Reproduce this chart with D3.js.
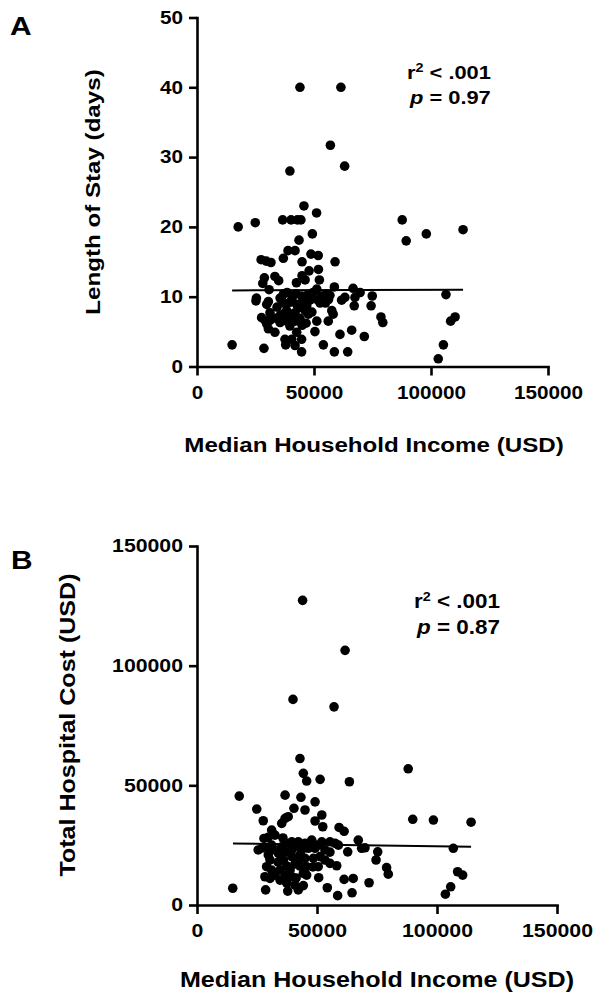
<!DOCTYPE html>
<html>
<head>
<meta charset="utf-8">
<script src="https://cdn.jsdelivr.net/npm/d3@7"></script>
<style>
  body { margin: 0; background: #fff; }
  svg { display: block; background: #fff; }
  text { font-family: "Liberation Sans", Arial, sans-serif; font-weight: bold; fill: #000; white-space: pre; }
</style>
</head>
<body>
<svg id="chart" width="596" height="993"></svg>
<script>
// panel A: length of stay (days) against median household income
const incomeA = [44000, 61500, 57000, 39700, 63100, 17600, 24900, 36600, 40200, 42900,
  44400, 45700, 51100, 87700, 113700, 98000, 89400, 49300, 43600, 38900,
  41900, 48700, 51800, 36900, 27400, 29600, 31600, 44900, 59000, 47900,
  51900, 44900, 28800, 33300, 34900, 28100, 42500, 52300, 46200, 58700,
  66700, 69700, 30800, 51200, 37000, 38500, 40600, 42300, 44700, 47000,
  49600, 46200, 49000, 53200, 55300, 56800, 56200, 52600, 54900, 36200,
  37600, 39700, 42600, 45400, 48300, 25400, 25200, 30500, 29800, 38300,
  41900, 46200, 46900, 47600, 61800, 63200, 67500, 67200, 74900, 74400,
  106400, 29100, 31200, 29800, 36900, 35500, 38300, 41900, 44900, 46600,
  30500, 33300, 42600, 37600, 44700, 37900, 41900, 15000, 28600, 44700,
  57600, 58200, 51200, 56100, 78600, 79400, 50400, 61100, 66100, 71500,
  54000, 58700, 64400, 110300, 108400, 105300, 103100, 40500, 39700, 31200,
  35500, 34200, 27600, 35500, 40600, 43200, 38900, 44000, 33800, 49100,
  51700];
const stayDays = [40, 40, 31.7, 28.0, 28.7, 20.0, 20.6, 21.0, 21.0, 21.0,
  21.0, 23.0, 22.0, 21.0, 19.6, 19.0, 18.0, 19.0, 18.1, 16.6,
  16.6, 16.1, 15.9, 15.5, 15.3, 15.1, 14.9, 15.0, 15.0, 13.7,
  13.9, 13.0, 12.7, 12.9, 12.3, 11.9, 12.0, 12.4, 12.4, 11.4,
  11.2, 10.6, 11.0, 11.1, 10.4, 10.6, 10.1, 10.4, 10.1, 10.2,
  10.6, 9.6, 9.9, 10.1, 10.4, 10.2, 9.6, 9.1, 9.1, 9.5,
  9.0, 9.2, 8.9, 9.3, 9.5, 9.8, 9.4, 9.3, 8.9, 8.0,
  7.7, 8.0, 8.7, 7.5, 9.5, 9.9, 9.9, 8.7, 10.1, 8.7,
  10.3, 6.6, 6.6, 6.1, 7.5, 6.3, 6.5, 6.5, 5.9, 6.2,
  5.4, 4.9, 4.9, 3.9, 3.9, 3.1, 3.0, 3.1, 2.6, 2.1,
  8.0, 7.5, 6.5, 6.5, 7.1, 6.3, 5.0, 4.6, 5.2, 4.3,
  3.1, 2.1, 2.1, 7.1, 6.5, 3.1, 1.1, 3.9, 5.8, 7.7,
  7.3, 8.5, 7.0, 9.8, 9.5, 8.4, 7.1, 6.9, 6.9, 7.8,
  9.5];

// panel B: total hospital cost (USD) against median household income
const incomeB = [44000, 61700, 40000, 57100, 42900, 44300, 45700, 51300, 63500, 88000,
  17600, 36700, 43300, 49200, 24900, 40400, 45000, 38000, 36700, 35300,
  27600, 52000, 49200, 52400, 89900, 98500, 114200, 59200, 61300, 31100,
  32500, 29700, 27900, 67200, 68600, 70000, 106800, 75300, 74600, 62800,
  79000, 79700, 108600, 110700, 105700, 103500, 14900, 28600, 37800, 42200,
  44300, 54300, 58600, 64600, 71700, 61300, 65100, 50700, 55400, 58200,
  50500, 25500, 29700, 31100, 35300, 37400, 39500, 42200, 45000, 47800,
  52000, 55400, 57500, 58900, 33900, 36700, 39500, 43600, 46400, 49200,
  53300, 55400, 29700, 30400, 36000, 39500, 42200, 45000, 48500, 51300,
  53300, 29000, 31100, 28300, 30400, 32500, 36700, 39500, 44300, 45700,
  37400, 40800, 48300, 45700, 37400, 40800, 34600, 33800, 27100, 32500,
  41300, 50400, 42900, 34600, 41300, 38800, 42900, 35800];
const hospitalCost = [127300, 106400, 85900, 82800, 61200, 55000, 51800, 52500, 51500, 56900,
  45500, 45900, 45000, 43100, 40100, 40400, 39700, 36900, 36200, 34100,
  35200, 37600, 35100, 32700, 35800, 35500, 34600, 32400, 30800, 31300,
  29200, 28300, 27800, 27100, 23700, 23900, 23700, 22200, 18800, 22200,
  15600, 12900, 13900, 12500, 7600, 4500, 7000, 6300, 5800, 6300,
  8100, 7200, 3900, 5100, 9300, 10700, 11100, 11400, 17400, 16400,
  16000, 23000, 24100, 25000, 24300, 25800, 26400, 26400, 25800, 27100,
  26400, 26400, 25800, 25000, 21600, 22200, 23000, 23000, 23700, 23700,
  23000, 22100, 20900, 18800, 18800, 20200, 18800, 19500, 19500, 20200,
  18800, 16000, 14600, 11800, 11100, 12500, 12500, 11800, 13200, 16000,
  16300, 17100, 15900, 12500, 9100, 8300, 14600, 17900, 23800, 23000,
  24600, 25000, 16300, 10400, 11300, 14600, 20900, 28000];

// fitted regression lines (end points)
const stayFitX = [15000, 113700];
const stayFitY = [10.9, 11.0];
const costFitX = [15000, 114200];
const costFitY = [25700, 24300];

const incomeTicks = [0, 50000, 100000, 150000];
const stayTicks = [0, 10, 20, 30, 40, 50];
const costTicks = [0, 50000, 100000, 150000];

const svg = d3.select("#chart");
const stretch = 1.15; // original type is wider than Liberation Sans

function drawPanel(p) {
  let x = d3.scaleLinear().domain([0, 150000]).range(p.xRange);
  let y = d3.scaleLinear().domain(p.yDomain).range(p.yRange);
  let g = svg.append("g");

  let xAxis = d3.axisBottom(x)
    .tickValues(incomeTicks)
    .tickFormat(d3.format("d"))
    .tickSize(9)
    .tickSizeOuter(0)
    .tickPadding(p.xPad);

  let yAxis = d3.axisLeft(y)
    .tickValues(p.yTicks)
    .tickFormat(d3.format("d"))
    .tickSize(8)
    .tickSizeOuter(0);

  let gx = g.append("g")
    .attr("transform", "translate(0," + p.yRange[0] + ")")
    .call(xAxis);
  let gy = g.append("g")
    .attr("transform", "translate(" + p.xRange[0] + ",0)")
    .call(yAxis);

  [gx, gy].forEach(function (a) {
    a.attr("font-size", null).attr("font-family", null);
    a.selectAll("path, line").attr("stroke", "#000").attr("stroke-width", 2.6);
    a.select(".domain").attr("stroke-linecap", "square");
    a.selectAll("text").style("font-size", p.tickFont + "px");
  });
  gx.selectAll("text").attr("transform", "scale(" + stretch + ",1)");
  gy.selectAll("text")
    .attr("x", -14 / stretch)
    .attr("transform", "scale(" + stretch + ",1)");

  // regression line
  let line = d3.line()
    .x(function (d) { return x(d[0]); })
    .y(function (d) { return y(d[1]); });
  g.append("path")
    .datum(d3.zip(p.fitX, p.fitY))
    .attr("d", line)
    .attr("fill", "none")
    .attr("stroke", "#000")
    .attr("stroke-width", 2);

  // points
  g.selectAll("circle")
    .data(d3.zip(p.xs, p.ys))
    .enter()
    .append("circle")
    .attr("cx", function (d) { return x(d[0]); })
    .attr("cy", function (d) { return y(d[1]); })
    .attr("r", 4.8)
    .attr("fill", "#000");

  // titles
  g.append("text")
    .attr("text-anchor", "middle")
    .attr("transform", "translate(" + p.xTitle[0] + "," + p.xTitle[1] + ") scale(" + stretch + ",1)")
    .style("font-size", p.titleFont + "px")
    .text("Median Household Income (USD)");

  g.append("text")
    .attr("text-anchor", "middle")
    .attr("dy", "0.26em")
    .attr("transform", "translate(" + p.yTitle[0] + "," + p.yTitle[1] + ") rotate(-90) scale(" + stretch + ",1)")
    .style("font-size", p.titleFont + "px")
    .text(p.yLabel);

  g.append("text")
    .attr("transform", "translate(" + p.letterPos[0] + "," + p.letterPos[1] + ") scale(" + stretch + ",1)")
    .style("font-size", "26px")
    .text(p.letter);

  // statistics
  let r2 = g.append("text")
    .attr("transform", "translate(" + p.note[0] + "," + p.note[1] + ") scale(" + stretch + ",1)")
    .style("font-size", p.noteFont + "px");
  r2.append("tspan").text("r");
  r2.append("tspan").attr("dy", -7.5).style("font-size", "12.5px").text("2");
  r2.append("tspan").attr("dy", 7.5).text(" < .001");

  let pv = g.append("text")
    .attr("transform", "translate(" + (p.note[0] + 3) + "," + (p.note[1] + p.noteGap) + ") scale(" + stretch + ",1)")
    .style("font-size", p.noteFont + "px");
  pv.append("tspan").style("font-style", "italic").text("p");
  pv.append("tspan").text(" = " + p.pValue);
}

drawPanel({
  letter: "A", letterPos: [10, 35],
  xs: incomeA, ys: stayDays, fitX: stayFitX, fitY: stayFitY,
  xRange: [197, 548], yDomain: [0, 50], yRange: [366.5, 17.5], yTicks: stayTicks,
  xPad: 11, tickFont: 18, titleFont: 21, noteFont: 19,
  xTitle: [374, 452], yTitle: [95, 192], yLabel: "Length of Stay (days)",
  note: [407, 79], noteGap: 24.5, pValue: "0.97"
});

drawPanel({
  letter: "B", letterPos: [11, 569],
  xs: incomeB, ys: hospitalCost, fitX: costFitX, fitY: costFitY,
  xRange: [197, 557], yDomain: [0, 150000], yRange: [905, 546], yTicks: costTicks,
  xPad: 10, tickFont: 18.5, titleFont: 21.8, noteFont: 19.5,
  xTitle: [377, 987], yTitle: [69, 725], yLabel: "Total Hospital Cost (USD)",
  note: [414, 608], noteGap: 26, pValue: "0.87"
});
</script>
</body>
</html>
